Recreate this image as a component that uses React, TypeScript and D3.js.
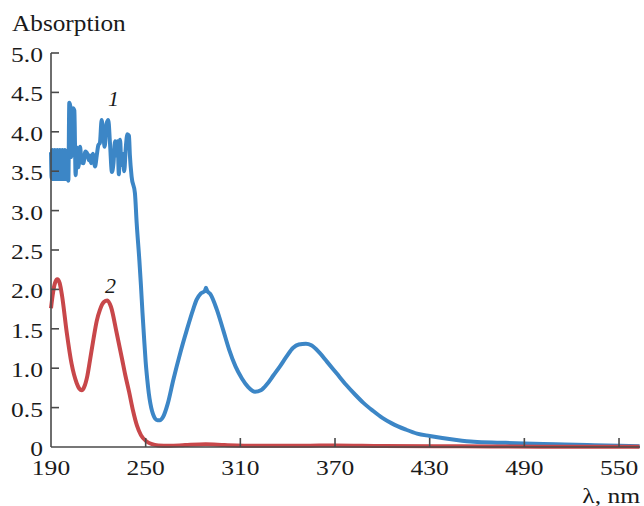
import React from "react";
import * as d3 from "d3";

// curve 1 (blue)
const wl1 = [
  190, 190.4, 190.8, 191.2, 191.6, 192, 192.4, 192.8, 193.2, 193.6, 194, 194.4, 194.8, 195.2, 195.6,
  196, 196.4, 196.8, 197.2, 197.6, 198, 198.4, 198.8, 199.2, 199.6, 200, 200.5, 201, 201.6, 202.2,
  202.8, 203.4, 204, 204.8, 205.6, 206.4, 207.4, 208.4, 209.4, 210.5, 211.8, 213, 214, 214.6, 215.4,
  216.5, 217.9, 219, 220, 221, 222.1, 223.2, 224, 225.2, 226.3, 227.4, 228.6, 229.6, 230.6, 231.4,
  232.2, 233, 233.8, 234.6, 235.4, 236.4, 237.4, 238.4, 239.4, 240, 241.1, 243.2, 244.3, 246, 247,
  248, 249, 250, 251, 252, 253, 254, 255, 256, 257.5, 259, 261, 264, 267.5, 272, 276, 280, 282.3,
  285, 287.5, 288.2, 289, 291, 295, 299.2, 303, 307, 311, 315, 319.3, 323, 327, 331, 335, 339,
  343.5, 347, 351.6, 355, 360, 365, 371, 377, 383, 388, 394, 400, 406, 415, 422, 430, 447, 458, 475,
  490, 510, 530, 550, 563,
];
const abs1 = [
  3.74, 3.41, 3.77, 3.4, 3.76, 3.42, 3.77, 3.4, 3.75, 3.41, 3.77, 3.4, 3.76, 3.42, 3.77,
  3.4, 3.75, 3.41, 3.77, 3.4, 3.76, 3.42, 3.77, 3.4, 3.76, 3.41, 3.75, 3.38, 4.37, 4.33,
  3.68, 3.75, 4.3, 4.27, 3.45, 3.8, 3.55, 3.81, 3.62, 3.6, 3.75, 3.72, 3.64, 3.7, 3.6,
  3.72, 3.56, 3.7, 3.83, 3.86, 4.15, 3.95, 3.81, 4.1, 4.15, 3.85, 3.49, 3.6, 3.88, 3.7,
  3.88, 3.46, 3.9, 3.58, 3.72, 3.5, 3.8, 3.97, 3.95, 3.7, 3.43, 3.22, 2.84, 2.37, 2.05,
  1.7, 1.38, 1.08, 0.86, 0.68, 0.55, 0.46, 0.4, 0.36, 0.34, 0.34, 0.38, 0.55, 0.85, 1.2, 1.48, 1.74, 1.87,
  1.95, 1.98, 2.02, 1.98, 1.94, 1.75, 1.48, 1.23, 1.02, 0.87, 0.76, 0.7, 0.72, 0.8, 0.91, 1.02, 1.14,
  1.26, 1.3, 1.31, 1.29, 1.2, 1.08, 0.935, 0.79, 0.66, 0.56, 0.46, 0.37, 0.3, 0.22, 0.17, 0.14, 0.09, 0.067, 0.055,
  0.045, 0.035, 0.025, 0.016, 0.008,
];

// curve 2 (red)
const wl2 = [
  190, 191, 192.5, 194, 195.5, 197, 200, 203, 206.3, 208, 209.5, 211, 213, 214.7, 217, 219, 221,
  223.5, 225.7, 228, 231.6, 235, 237, 239.5, 242, 244.5, 247, 250.6, 254, 258, 265, 275, 288, 300,
  320, 350, 370, 400, 450, 500, 563,
];
const abs2 = [
  1.76, 1.92, 2.08, 2.13, 2.08, 1.92, 1.45, 1.06, 0.81, 0.74, 0.72, 0.76, 0.9, 1.1, 1.38, 1.6, 1.74,
  1.84, 1.86, 1.78, 1.45, 1.12, 0.92, 0.7, 0.46, 0.27, 0.15, 0.07, 0.035, 0.02, 0.015, 0.025, 0.035, 0.025,
  0.015, 0.015, 0.02, 0.012, 0.008, 0.004, 0.002,
];

const xTicks = [250, 310, 370, 430, 490, 550];
const xTickLabels = [190, 250, 310, 370, 430, 490, 550];
const yTicks = [0.5, 1, 1.5, 2, 2.5, 3, 3.5, 4, 4.5, 5];
const yTickLabels = ["0", "0.5", "1.0", "1.5", "2.0", "2.5", "3.0", "3.5", "4.0", "4.5", "5.0"];
const yTickValues = [0, 0.5, 1, 1.5, 2, 2.5, 3, 3.5, 4, 4.5, 5];

const FONT = "'Liberation Serif', 'Times New Roman', serif";
const SX = 1.16;

export default function App() {
  const W = 644;
  const H = 506;
  const x = d3.scaleLinear().domain([190, 563.3]).range([51, 640]);
  const y = d3.scaleLinear().domain([0, 5]).range([447, 53]);

  const line = d3
    .line<[number, number]>()
    .x((d) => x(d[0]))
    .y((d) => y(d[1]))
    .curve(d3.curveMonotoneX);

  const s1 = wl1.map((w, i) => [w, abs1[i]] as [number, number]);
  const s2 = wl2.map((w, i) => [w, abs2[i]] as [number, number]);

  const axisColor = "#4a4a4a";

  return (
    <svg width={W} height={H} style={{ position: "absolute", left: 0, top: 0, background: "#fff" }}>
      <path d={line(s1) || ""} fill="none" stroke="#3c86c6" strokeWidth={4} strokeLinejoin="round" />
      <path d={line(s2) || ""} fill="none" stroke="#c8474a" strokeWidth={4} strokeLinejoin="round" />

      {/* axes */}
      <line x1={x(190)} x2={x(190)} y1={y(5)} y2={y(0)} stroke={axisColor} strokeWidth={1.6} />
      <line x1={x(190)} x2={640} y1={y(0)} y2={y(0)} stroke={axisColor} strokeWidth={1.6} />
      {yTicks.map((t) => (
        <line key={"yt" + t} x1={x(190)} x2={x(190) + 8} y1={y(t)} y2={y(t)} stroke={axisColor} strokeWidth={1.6} />
      ))}
      {xTicks.map((t) => (
        <line key={"xt" + t} x1={x(t)} x2={x(t)} y1={y(0)} y2={y(0) - 9} stroke={axisColor} strokeWidth={1.6} />
      ))}

      {yTickValues.map((t, i) => (
        <text
          key={"yl" + t}
          transform={`translate(43,${y(t) + 9}) scale(${SX},1)`}
          textAnchor="end"
          fontFamily={FONT}
          fontSize={22}
          fill="#1a1a1a"
        >
          {yTickLabels[i]}
        </text>
      ))}
      {xTickLabels.map((t) => (
        <text
          key={"xl" + t}
          transform={`translate(${x(t)},${y(0) + 28}) scale(${SX},1)`}
          textAnchor="middle"
          fontFamily={FONT}
          fontSize={22}
          fill="#1a1a1a"
        >
          {t}
        </text>
      ))}

      <text transform={`translate(12,31) scale(1.1,1)`} fontFamily={FONT} fontSize={23} fill="#1a1a1a">
        Absorption
      </text>
      <text transform={`translate(640,503) scale(${SX},1)`} textAnchor="end" fontFamily={FONT} fontSize={22} fill="#1a1a1a">
        λ, nm
      </text>

      <text x={108} y={106} fontFamily={FONT} fontStyle="italic" fontSize={22} fill="#1a1a1a">
        1
      </text>
      <text x={105} y={293} fontFamily={FONT} fontStyle="italic" fontSize={22} fill="#1a1a1a">
        2
      </text>
    </svg>
  );
}
